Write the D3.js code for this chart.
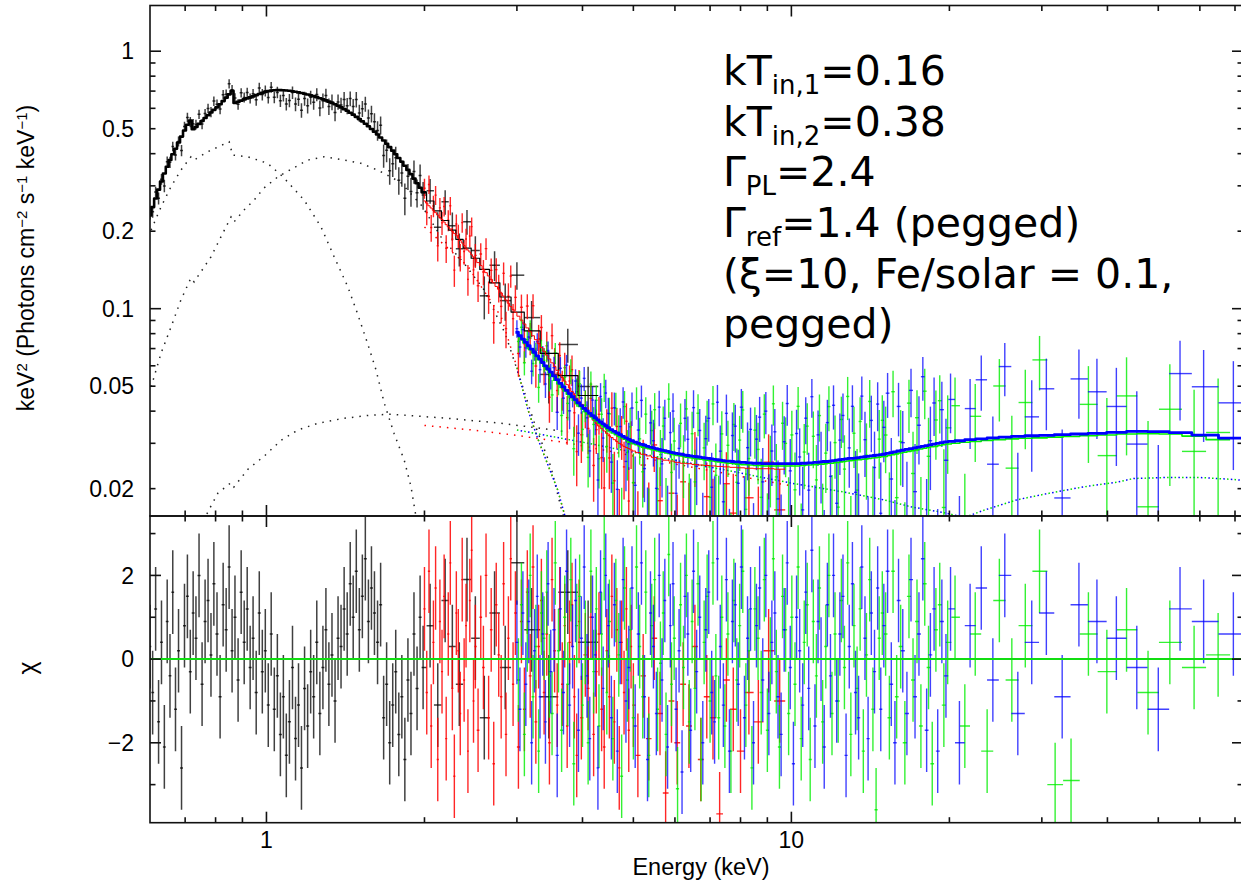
<!DOCTYPE html>
<html>
<head>
<meta charset="utf-8">
<script src="https://cdn.jsdelivr.net/npm/d3@7"></script>
<style>
  body { margin: 0; background: #fff; }
  svg text { font-family: "Liberation Sans", Arial, sans-serif; fill: #000; }
  .annot text { font-family: "DejaVu Sans", sans-serif; }
</style>
</head>
<body>
<svg id="chart" width="1241" height="884"></svg>
<script>
// ---- Black spectrum (soft band): bin energy, model, rel. error (%), chi ----
const blackE = [0.600,0.607,0.615,0.623,0.631,0.639,0.647,0.655,0.663,0.671,
  0.680,0.689,0.698,0.707,0.716,0.725,0.734,0.744,0.754,0.764,
  0.774,0.784,0.794,0.805,0.816,0.827,0.838,0.849,0.860,0.871,
  0.883,0.895,0.907,0.919,0.931,0.943,0.956,0.969,0.982,0.995,
  1.008,1.021,1.035,1.049,1.063,1.077,1.091,1.106,1.121,1.136,
  1.151,1.166,1.182,1.198,1.214,1.230,1.247,1.264,1.281,1.298,
  1.315,1.333,1.351,1.369,1.387,1.406,1.425,1.444,1.463,1.483,
  1.503,1.523,1.543,1.564,1.585,1.606,1.628,1.650,1.672,1.694,
  1.717,1.740,1.763,1.787,1.811,1.835,1.860,1.885,1.910,1.936,
  1.962,1.988,2.05,2.12,2.19,2.26,2.33,2.41,2.50,2.60,
  2.72,2.85,3.00,3.20,3.45,3.75,4.10];
const blackModel = [0.230,0.248,0.268,0.290,0.312,0.335,0.356,0.378,0.398,0.418,
  0.442,0.466,0.492,0.518,0.538,0.498,0.508,0.522,0.536,0.550,
  0.564,0.578,0.592,0.606,0.622,0.640,0.660,0.680,0.702,0.630,
  0.636,0.643,0.650,0.656,0.662,0.668,0.675,0.682,0.689,0.695,
  0.700,0.703,0.705,0.706,0.706,0.705,0.704,0.702,0.699,0.696,
  0.692,0.688,0.684,0.679,0.674,0.669,0.663,0.657,0.651,0.644,
  0.637,0.630,0.622,0.614,0.605,0.596,0.587,0.577,0.567,0.556,
  0.545,0.534,0.523,0.511,0.499,0.487,0.475,0.462,0.450,0.437,
  0.424,0.411,0.398,0.385,0.372,0.359,0.346,0.333,0.320,0.307,
  0.295,0.283,0.262,0.240,0.220,0.202,0.186,0.172,0.157,0.142,
  0.126,0.111,0.097,0.082,0.067,0.055,0.046];
const blackErr = [5,5,5,5,5,5,5,5,4.5,4.5,
  4.5,4.5,4.5,4.5,4.5,4.5,4.5,4.5,4.5,4.5,
  4.5,4.5,4.5,4.5,4.5,4.5,4.5,4.5,4.5,4.5,
  4.5,4.5,4.5,4.5,4.5,4.5,5,5,5,5,
  5,5,5,5,5,5,5,5.5,5.5,5.5,
  5.5,5.5,6,6,6,6,6,6.5,6.5,6.5,
  7,7,7,7,7,7.5,7.5,7.5,7.5,8,
  8,8,8,8.5,8.5,8.5,9,9,9,9.5,
  9.5,10,10,10,10.5,10.5,11,11,11,11.5,
  11.5,12,12,12.5,13,13,13.5,14,14.5,15,
  15.5,16,17,18,19,20,21];
const blackChi = [0.3,-0.8,1.2,-1.5,0.4,-2.1,0.9,-0.4,1.6,-1.2,0.2,-2.6,
  0.8,1.5,-0.3,1.1,0.5,2.0,-0.6,0.9,1.4,0.1,1.8,0.6,-0.9,1.3,0.7,2.2,0.2,1.0,-0.5,1.6,0.4,1.2,-0.2,
  0.5,-0.8,1.1,-0.3,0.2,-1.1,0.6,
  -1.2,-0.4,-1.8,-0.9,-2.3,-1.5,-0.2,-1.9,-1.1,-2.6,-0.7,-1.6,-0.3,
  -0.9,0.4,-1.3,-0.2,0.7,-0.6,0.1,-1.0,0.5,0.3,
  1.2,0.6,1.8,1.0,2.1,0.7,1.5,2.4,0.9,1.7,1.1,0.4,1.3,
  -1.4,-0.6,-2.0,-1.1,-0.3,-1.8,-0.9,-2.4,-0.5,-1.3,
  0.6,-0.7,1.0,-0.2,
  0.8,-1.1,1.4,0.3,-0.6,1.9,0.5,-1.4,1.1,-0.2,2.3,0.7,-0.9,1.6,0.4];

// ---- Red spectrum ----
const redE = [2.00,2.02,2.04,2.06,2.08,2.10,2.12,2.14,2.16,2.18,2.20,2.22,2.24,2.26,2.28,2.30,2.32,2.34,2.36,2.38,2.40,2.42,2.44,2.46,2.48,
  2.50,2.53,2.56,2.59,2.62,2.65,2.68,2.71,2.74,2.77,2.80,2.83,2.86,2.89,2.92,2.95,2.98,
  3.02,3.06,3.10,3.14,3.18,3.22,3.26,3.30,3.34,3.38,3.42,3.46,3.50,3.54,3.58,3.62,3.66,3.70,3.74,3.78,3.82,3.86,3.90,3.94,3.98,
  4.05,4.10,4.15,4.20,4.25,4.30,4.35,4.40,4.45,4.50,4.55,4.60,4.65,4.70,4.75,4.80,4.85,4.90,4.95,5.00,
  5.10,5.22,5.35,5.48,5.62,5.76,5.91,6.06,6.22,6.38,6.55,6.72,6.90,7.09,7.30,7.52,7.75,8.00,8.30,8.65,9.05,9.50];
const redModel = [0.262,0.257,0.251,0.246,0.241,0.236,0.231,0.226,0.222,0.217,0.212,0.208,0.204,0.200,0.196,0.192,0.188,0.184,0.180,0.176,0.172,0.169,0.166,0.162,0.159,
  0.156,0.151,0.147,0.142,0.138,0.134,0.130,0.126,0.122,0.119,0.115,0.112,0.108,0.105,0.102,0.0992,0.0968,
  0.0935,0.0903,0.0872,0.0842,0.0813,0.0785,0.0758,0.0732,0.0707,0.0683,0.0660,0.0638,0.0616,0.0596,0.0576,0.0557,0.0540,0.0523,0.0507,0.0492,0.0477,0.0463,0.0449,0.0437,0.0425,
  0.0405,0.0392,0.0380,0.0369,0.0359,0.0350,0.0342,0.0335,0.0328,0.0321,0.0316,0.0310,0.0305,0.0300,0.0296,0.0292,0.0289,0.0286,0.0283,0.0280,
  0.0276,0.0272,0.0268,0.0264,0.0261,0.0258,0.0256,0.0253,0.0251,0.0250,0.0248,0.0247,0.0246,0.0245,0.0244,0.0243,0.0242,0.0241,0.0240,0.0239,0.0239,0.0238];
const redErr = [10,10,10,10,10,10,10,10,10,10,10,10,10,10,10,10,10.5,10.5,10.5,10.5,10.5,10.5,11,11,11,
  11,11,11,11,12,12,12,12,12.5,12.5,12.5,12.5,12.5,13,13,13,13,
  13.5,13.5,13.5,13.5,13.5,14,14,14,14,14.5,14.5,14.5,14.5,15,15,15,16,16,16,16,16.5,16.5,16.5,17,17,
  17,18,18,18.5,18.5,18.5,19,19,20,20,20,20.5,20.5,21,21,21,22,22,22.5,22.5,
  22.5,23,23.5,24,24,24.5,25,25,25.5,26,26,26.5,27,27,27.5,28,28,28.5,29,29.5,30,30.5];
const redChi = [1.2,-0.8,2.1,-1.6,0.4,1.7,-2.4,0.9,-0.3,1.5,-1.9,0.6,2.3,-0.7,-2.8,1.1,0.2,-1.3,1.9,-0.5,0.8,-2.2,1.4,2.6,-1.0,
  0.3,-1.7,1.0,-0.2,2.0,-1.4,0.7,-2.5,1.3,0.1,-0.9,1.8,-1.8,0.5,2.4,-0.6,1.1,
  -2.1,0.9,-1.2,1.6,-0.4,2.2,-1.5,0.3,1.4,-0.8,0.6,-2.0,1.9,0.2,-1.1,1.2,-0.6,0.8,-1.6,0.4,1.3,-0.9,-2.3,0.9,-1.4,
  0.1,-0.7,1.0,-1.8,-0.3,0.6,-1.2,-2.1,0.2,-0.9,1.5,-1.5,0.7,-2.6,0.4,-0.8,1.2,-1.7,0.3,-1.1,
  -2.3,-0.4,-1.9,0.5,-1.3,-3.2,-1.0,-2.0,-0.6,-1.6,0.3,-2.4,-0.9,-1.4,-3.7,-0.5,-1.2,-2.2,-0.8,-1.5,0.2,-1.0];

// ---- Green spectrum (hard band) ----
const greenE = [3.02,3.06,3.10,3.14,3.18,3.22,3.26,3.30,3.34,3.38,3.42,3.46,3.50,
  3.55,3.60,3.65,3.70,3.75,3.80,3.85,3.90,3.95,4.00,4.05,4.10,4.15,4.20,4.25,4.30,4.35,4.40,4.45,4.50,
  4.57,4.63,4.69,4.75,4.81,4.87,4.93,5.00,5.07,5.14,5.21,5.28,5.35,5.42,5.49,5.56,5.63,5.70,5.77,5.84,5.91,5.98,
  6.07,6.15,6.23,6.31,6.39,6.47,6.55,6.64,6.73,6.82,6.91,7.00,7.09,7.18,7.27,7.37,7.47,7.57,7.67,7.77,7.87,7.97,
  8.08,8.19,8.30,8.41,8.52,8.64,8.76,8.88,9.00,9.12,9.24,9.36,9.49,9.62,9.75,9.88,10.02,10.16,10.30,10.44,10.58,10.72,10.86,11.01,
  11.16,11.31,11.47,11.63,11.79,11.95,12.11,12.28,12.45,12.62,12.80,12.98,13.16,13.34,13.52,13.71,13.90,14.10,14.30,14.50,14.70,14.90,
  15.12,15.37,15.62,15.87,16.15,16.45,16.75,17.05,17.35,17.65,17.95,18.25,18.55,18.85,19.17,19.52,19.85,
  20.5,21.4,22.4,23.6,24.9,26.3,27.9,29.7,31.8,34.1,36.8,39.9,43.5,47.8,52.6,58.5,65.0];
const greenModel = [0.0781,0.0758,0.0736,0.0714,0.0693,0.0673,0.0653,0.0634,0.0615,0.0597,0.0580,0.0564,0.0548,
  0.0527,0.0510,0.0494,0.0479,0.0465,0.0452,0.0440,0.0428,0.0417,0.0407,0.0398,0.0389,0.0381,0.0373,0.0366,0.0359,0.0353,0.0347,0.0341,0.0336,
  0.0329,0.0324,0.0319,0.0315,0.0311,0.0307,0.0303,0.0299,0.0296,0.0293,0.0290,0.0288,0.0286,0.0284,0.0282,0.0280,0.0278,0.0277,0.0275,0.0274,0.0272,0.0271,
  0.0269,0.0268,0.0267,0.0265,0.0264,0.0263,0.0262,0.0261,0.0260,0.0259,0.0258,0.0257,0.0256,0.0255,0.0254,0.0253,0.0252,0.0251,0.0251,0.0250,0.0249,0.0249,
  0.0248,0.0248,0.0247,0.0247,0.0246,0.0246,0.0246,0.0245,0.0245,0.0245,0.0245,0.0245,0.0245,0.0245,0.0245,0.0245,0.0245,0.0245,0.0245,0.0246,0.0246,0.0247,0.0247,0.0248,
  0.0248,0.0249,0.0249,0.0250,0.0251,0.0251,0.0252,0.0253,0.0254,0.0255,0.0256,0.0257,0.0258,0.0259,0.0259,0.0260,0.0261,0.0262,0.0263,0.0264,0.0265,0.0266,
  0.0267,0.0269,0.0271,0.0273,0.0275,0.0277,0.0279,0.0281,0.0283,0.0285,0.0287,0.0289,0.0291,0.0292,0.0294,0.0296,0.0298,
  0.0300,0.0303,0.0305,0.0308,0.0310,0.0312,0.0314,0.0315,0.0317,0.0319,0.0321,0.0323,0.0326,0.0327,0.0326,0.0320,0.0310];
const greenErr = [9,9,9,9,10,10,10,10,11,11,11,11,12,
  12,12,13,13,13,14,14,14,15,15,15,16,16,16,17,17,17,18,18,18,
  19,19,19,20,20,20,21,21,21,22,22,22,23,23,23,24,24,24,25,25,25,26,
  26,26,26,27,27,27,27,28,28,28,28,28,29,29,29,29,29,29,30,30,30,30,
  30,30,30,30,31,31,31,31,31,31,31,31,31,31,32,32,32,32,32,32,32,32,32,32,
  32,32,32,33,33,33,33,33,33,33,34,34,34,34,34,34,34,35,35,35,35,35,
  35,35,36,36,36,36,36,37,37,37,37,38,38,38,38,39,39,
  40,41,42,43,44,46,47,48,50,52,54,56,58,60,62,64,66];
const greenChi = [-0.5,1.3,-1.8,0.7,2.0,-0.9,0.3,-2.2,1.1,0.5,1.6,-0.4,-1.3,
  2.3,0.2,-1.7,1.0,-0.6,1.9,-2.5,0.8,1.5,-1.1,0.4,-2.0,2.1,-0.3,1.2,-1.6,0.6,2.4,-0.8,0.9,
  -1.9,1.4,0.1,-2.8,1.7,-0.5,0.7,-1.4,2.2,0.3,-0.9,1.6,-2.3,0.8,1.9,-1.2,-0.1,1.1,-1.8,2.5,-0.6,0.5,
  -3.1,1.3,-0.2,2.0,-1.5,0.9,-0.7,1.8,-2.4,0.4,1.5,-1.0,2.3,-0.4,-1.4,1.0,-1.6,0.6,-2.2,1.4,-0.5,0.8,
  2.1,-1.1,0.2,-2.6,1.2,0.5,-0.8,1.9,-1.7,0.0,2.4,-0.3,-2.1,1.5,0.7,-1.3,1.0,-0.6,2.2,-1.9,0.4,1.3,-2.4,0.9,
  -0.4,1.7,-1.5,0.3,2.0,-1.3,0.6,-1.0,1.4,-0.2,2.3,-1.8,0.8,-0.7,1.2,-2.2,0.1,1.9,-1.2,-3.6,0.5,1.1,
  0.6,-1.4,2.1,-0.9,0.3,-2.0,1.5,-0.5,0.9,-1.6,1.8,-0.2,-2.5,0.7,1.3,-1.1,0.4,
  1.0,-1.6,0.6,-2.2,1.4,-0.5,0.8,2.1,-3.0,-2.9,0.6,-0.3,0.7,-0.8,0.4,-0.2,0.1];

// ---- Blue spectrum (hard band) ----
const blueE = [3.00,3.04,3.08,3.12,3.16,3.20,3.24,3.28,3.32,3.36,3.40,3.44,3.48,
  3.53,3.58,3.63,3.68,3.73,3.78,3.83,3.88,3.93,3.98,4.03,4.08,4.13,4.18,4.23,4.28,4.33,4.38,4.43,4.48,
  4.54,4.60,4.66,4.72,4.78,4.84,4.90,4.97,5.04,5.11,5.18,5.25,5.32,5.39,5.46,5.53,5.60,5.67,5.74,5.81,5.88,5.95,
  6.03,6.11,6.19,6.27,6.35,6.43,6.51,6.60,6.69,6.78,6.87,6.96,7.05,7.14,7.23,7.32,7.42,7.52,7.62,7.72,7.82,7.92,
  8.03,8.14,8.25,8.36,8.47,8.58,8.70,8.82,8.94,9.06,9.18,9.30,9.43,9.56,9.69,9.82,9.95,10.09,10.23,10.37,10.51,10.65,10.79,10.94,
  11.09,11.24,11.39,11.55,11.71,11.87,12.03,12.20,12.37,12.54,12.71,12.89,13.07,13.25,13.43,13.62,13.81,14.00,14.20,14.40,14.60,14.80,
  15.0,15.25,15.5,15.75,16.0,16.3,16.6,16.9,17.2,17.5,17.8,18.1,18.4,18.7,19.0,19.35,19.7,
  20.1,20.9,21.9,23.0,24.2,25.5,27.0,28.7,30.6,32.8,35.3,38.2,41.6,45.5,50.0,55.0,61.0,69.5];
const blueModel = [0.0810,0.0785,0.0762,0.0740,0.0718,0.0697,0.0676,0.0656,0.0637,0.0618,0.0600,0.0583,0.0567,
  0.0548,0.0530,0.0513,0.0497,0.0482,0.0468,0.0455,0.0443,0.0431,0.0420,0.0410,0.0401,0.0392,0.0384,0.0377,0.0370,0.0363,0.0357,0.0351,0.0345,
  0.0339,0.0334,0.0329,0.0324,0.0319,0.0315,0.0311,0.0307,0.0303,0.0300,0.0297,0.0295,0.0292,0.0290,0.0288,0.0286,0.0284,0.0282,0.0281,0.0279,0.0277,0.0276,
  0.0274,0.0273,0.0272,0.0270,0.0269,0.0268,0.0267,0.0266,0.0265,0.0264,0.0263,0.0262,0.0261,0.0260,0.0259,0.0258,0.0257,0.0256,0.0256,0.0255,0.0254,0.0254,
  0.0253,0.0253,0.0252,0.0252,0.0251,0.0251,0.0251,0.0250,0.0250,0.0250,0.0250,0.0250,0.0250,0.0250,0.0250,0.0250,0.0250,0.0250,0.0250,0.0250,0.0251,0.0251,0.0252,0.0252,
  0.0253,0.0253,0.0254,0.0255,0.0255,0.0256,0.0257,0.0258,0.0259,0.0260,0.0261,0.0262,0.0262,0.0263,0.0264,0.0265,0.0266,0.0267,0.0268,0.0269,0.0270,0.0271,
  0.0272,0.0274,0.0276,0.0278,0.0280,0.0282,0.0284,0.0286,0.0288,0.0290,0.0292,0.0294,0.0296,0.0298,0.0300,0.0302,0.0304,
  0.0305,0.0307,0.0310,0.0312,0.0315,0.0317,0.0319,0.0321,0.0322,0.0324,0.0326,0.0328,0.0331,0.0334,0.0333,0.0330,0.0323,0.0314];
const blueErr = [8,8,8,8,9,9,9,9,10,10,10,10,11,
  11,11,12,12,12,13,13,13,14,14,14,15,15,15,16,16,16,17,17,17,
  18,18,18,19,19,19,20,20,20,21,21,21,22,22,22,23,23,23,24,24,24,25,
  25,25,25,26,26,26,26,27,27,27,27,27,28,28,28,28,28,28,29,29,29,29,
  29,29,29,29,30,30,30,30,30,30,30,30,30,30,31,31,31,31,31,31,31,31,31,31,
  31,31,31,32,32,32,32,32,32,32,33,33,33,33,33,33,33,34,34,34,34,34,
  34,34,35,35,35,35,35,36,36,36,36,37,37,37,37,38,38,
  38,39,40,41,42,44,45,46,47,48,49,50,52,54,56,58,60,62];
const blueChi = [0.4,-1.2,1.1,-0.6,0.9,-2.0,0.2,1.5,-0.9,0.6,-1.5,1.8,-0.3,
  0.7,-2.3,1.2,-0.8,2.1,-1.1,0.3,1.4,-1.7,0.5,2.2,-0.4,-1.9,1.0,0.1,-2.6,1.6,-0.7,2.0,0.8,
  -1.4,1.3,-2.2,0.4,1.9,-1.0,-0.2,1.7,-1.6,0.6,2.3,-0.9,-2.4,1.1,0.3,-1.3,2.0,-0.5,1.4,-2.1,0.8,1.8,
  -1.2,0.2,-2.7,1.5,0.6,-1.7,2.1,-0.3,1.0,-2.0,0.7,1.6,-0.8,-1.5,2.4,0.3,-1.1,1.9,-2.2,0.9,1.3,-0.6,
  2.2,-1.4,0.5,1.2,-2.0,0.8,1.7,-0.5,2.0,-1.3,0.4,1.1,-0.9,-1.8,0.7,2.3,-0.2,-2.5,1.0,0.2,-1.1,1.6,-0.7,2.6,
  -1.6,0.9,0.0,-2.1,1.3,-0.4,2.0,-1.0,0.6,1.5,-2.3,0.3,1.8,-0.8,-1.4,2.2,0.5,-1.9,1.1,-0.3,1.7,-1.2,
  0.8,2.1,-0.6,-2.0,1.4,0.2,-1.3,1.9,-0.9,0.6,2.4,-1.7,0.1,1.2,-2.2,0.9,-0.4,
  1.2,-2.0,0.8,1.7,-0.5,2.0,-1.3,0.4,1.1,-0.9,1.3,0.9,0.5,-0.2,-1.2,1.2,0.9,0.6];

// ---- Model components (dotted), energy / keV^2 flux ----
const blkDisk1E = [0.603,0.630,0.658,0.687,0.718,0.728,0.773,0.849,0.862,0.921,1.005,1.074,1.180,1.270,1.346,1.428,1.490,1.558,1.617,1.677,1.750,1.830,1.885,1.913,1.950];
const blkDisk1V = [0.202,0.249,0.298,0.345,0.389,0.378,0.407,0.445,0.395,0.389,0.367,0.326,0.264,0.208,0.159,0.122,0.096,0.0734,0.0578,0.0429,0.0328,0.0258,0.0204,0.017,0.0135];
const blkDisk2E = [0.603,0.630,0.658,0.687,0.718,0.728,0.784,0.819,0.856,0.867,0.906,0.947,0.989,1.051,1.126,1.200,1.287,1.404,1.513,1.630,1.800,1.980,2.150,2.380,2.600,2.850,3.060,3.240,3.480,3.640,3.760];
const blkDisk2V = [0.0497,0.0673,0.0849,0.108,0.1316,0.127,0.159,0.190,0.227,0.217,0.2416,0.264,0.294,0.325,0.352,0.378,0.389,0.378,0.367,0.345,0.310,0.250,0.190,0.150,0.118,0.080,0.0515,0.0359,0.0244,0.0169,0.0135];
const blkPowE = [0.760,0.774,0.808,0.856,0.867,0.922,0.989,1.066,1.148,1.253,1.404,1.580,1.726,1.830,2.220,2.800,3.760];
const blkPowV = [0.0150,0.0163,0.0192,0.0211,0.0203,0.0238,0.0267,0.0308,0.0338,0.0359,0.0375,0.0386,0.0389,0.0386,0.0375,0.0359,0.0332];
const redDisk2E = [2.00,2.42,2.80,3.01,3.15,3.28,3.43,3.59,3.68,3.76];
const redDisk2V = [0.2076,0.146,0.093,0.058,0.0404,0.0317,0.025,0.0197,0.0164,0.0140];
const redPowE = [2.0,2.5,3.0,3.75,5.0,7.0,10.0];
const redPowV = [0.0352,0.0337,0.0322,0.0301,0.0268,0.0235,0.0205];
const hardDisk2E = [3.00,3.15,3.28,3.43,3.59,3.68,3.76];
const hardDisk2V = [0.059,0.0404,0.0317,0.025,0.0197,0.0164,0.0140];
const hardPowE = [3.0,4.0,5.0,6.5,8.0,10.0,12.6,15.0,16.9,19.3,22.0];
const hardPowV = [0.0338,0.0303,0.0277,0.0250,0.0230,0.0210,0.0194,0.0181,0.0170,0.0162,0.0153];
const hardReflE = [20.5,23.3,26.9,31.0,35.9,41.7,44.9,52.0,60.0,69.8,73.0];
const hardReflV = [0.0150,0.0165,0.0181,0.0192,0.0203,0.0212,0.0219,0.0221,0.0221,0.0217,0.0215];

// ---- Axis ticks ----
const xMajor = [1, 10];
const xMinor = [0.7, 0.8, 0.9, 2, 3, 4, 5, 6, 7, 8, 9, 20, 30, 40, 50, 60, 70];
const xLabels = [1, 10];
const yMajor = [0.1, 1];
const yMinor = [0.02, 0.03, 0.04, 0.05, 0.06, 0.07, 0.08, 0.09, 0.2, 0.3, 0.4, 0.5, 0.6, 0.7, 0.8, 0.9];
const yLabels = [1, 0.5, 0.2, 0.1, 0.05, 0.02];
const chiMajor = [-2, 0, 2];
const chiMinor = [-3, -1, 1, 3];

const annotLines = [
  ['kT', 'in,1', '=0.16'],
  ['kT', 'in,2', '=0.38'],
  ['\u0393', 'PL', '=2.4'],
  ['\u0393', 'ref', '=1.4 (pegged)'],
  ['(\u03be=10, Fe/solar = 0.1,', '', ''],
  ['pegged)', '', '']
];

// ---- layout ----
const pLeft = 150, pRight = 1243, pTop = 5.5, pMid = 516, pBottom = 822.7;

const svg = d3.select('#chart');
const x = d3.scaleLog().domain([0.6, 72.5]).range([pLeft, pRight]);
const yUp = d3.scaleLog().domain([0.01566, 1.505]).range([pMid, pTop]);
const yChi = d3.scaleLinear().domain([-3.91, 3.42]).range([pBottom, pMid]);

const defs = svg.append('defs');
defs.append('clipPath').attr('id', 'clipUp')
  .append('rect').attr('x', pLeft).attr('y', pTop).attr('width', pRight - pLeft).attr('height', pMid - pTop);
defs.append('clipPath').attr('id', 'clipLo')
  .append('rect').attr('x', pLeft).attr('y', pMid).attr('width', pRight - pLeft).attr('height', pBottom - pMid);

const upper = svg.append('g').attr('clip-path', 'url(#clipUp)');
const lower = svg.append('g').attr('clip-path', 'url(#clipLo)');

// build bins: edges are geometric midpoints between neighbouring channels
function makeBins(E, M, R, C) {
  return E.map((e, i) => {
    const lo = i > 0 ? Math.sqrt(E[i - 1] * e) : e * Math.sqrt(e / E[i + 1]);
    const hi = i < E.length - 1 ? Math.sqrt(E[i + 1] * e) : e * Math.sqrt(e / E[i - 1]);
    const sig = M[i] * R[i] / 100;
    return { e, lo, hi, m: M[i], sig, chi: C[i], val: M[i] + C[i] * sig };
  });
}

// mw: model line width; thickTo: model drawn heavier up to this energy
const sets = [
  { name: 'black', color: '#000000', op: 0.75, sw: 1.5, bins: makeBins(blackE, blackModel, blackErr, blackChi), mw: 1.2, thickTo: 2.0, tw: 2.6 },
  { name: 'red', color: '#ff0000', op: 0.85, sw: 1.4, bins: makeBins(redE, redModel, redErr, redChi), mw: 1 },
  { name: 'green', color: '#00ee00', op: 0.8, sw: 1.4, bins: makeBins(greenE, greenModel, greenErr, greenChi), mw: 1.6 },
  { name: 'blue', color: '#0000ff', op: 0.75, sw: 1.4, bins: makeBins(blueE, blueModel, blueErr, blueChi), mw: 2.8 }
];

const floorV = 1e-4;
const compLine = d3.line().x(d => x(d[0])).y(d => yUp(d[1]));
const zip = (a, b) => a.map((v, i) => [v, b[i]]);

// dotted components
function drawComp(E, V, color, offset) {
  upper.append('path')
    .attr('d', compLine(zip(E, V)))
    .attr('fill', 'none')
    .attr('stroke', color)
    .attr('stroke-width', 1.5)
    .attr('stroke-dasharray', '1.5,6')
    .attr('stroke-dashoffset', offset || 0);
}
drawComp(blkDisk1E, blkDisk1V, '#222', 0);
drawComp(blkDisk2E, blkDisk2V, '#222', 0);
drawComp(blkPowE, blkPowV, '#222', 0);
drawComp(redDisk2E, redDisk2V, '#ff0000', 0);
drawComp(redPowE, redPowV, '#ff0000', 0);
drawComp(hardDisk2E, hardDisk2V, '#00dd00', 0);
drawComp(hardDisk2E, hardDisk2V, '#0000ff', 3.7);
drawComp(hardPowE, hardPowV, '#00dd00', 0);
drawComp(hardPowE, hardPowV, '#0000ff', 3.7);
drawComp(hardReflE, hardReflV, '#00dd00', 0);
drawComp(hardReflE, hardReflV, '#0000ff', 3.7);

// data crosses in both panels
sets.forEach(s => {
  const gu = upper.append('g').attr('stroke', s.color).attr('stroke-opacity', s.op).attr('stroke-width', s.sw);
  gu.selectAll('line.v').data(s.bins.filter(b => b.val + b.sig > 0)).join('line')
    .attr('class', 'v')
    .attr('x1', b => x(b.e)).attr('x2', b => x(b.e))
    .attr('y1', b => yUp(Math.max(b.val - b.sig, floorV)))
    .attr('y2', b => yUp(b.val + b.sig));
  gu.selectAll('line.h').data(s.bins.filter(b => b.val > 0)).join('line')
    .attr('class', 'h')
    .attr('x1', b => x(b.lo)).attr('x2', b => x(b.hi))
    .attr('y1', b => yUp(b.val)).attr('y2', b => yUp(b.val));

  const gl = lower.append('g').attr('stroke', s.color).attr('stroke-opacity', s.op).attr('stroke-width', s.sw);
  gl.selectAll('line.v').data(s.bins).join('line')
    .attr('class', 'v')
    .attr('x1', b => x(b.e)).attr('x2', b => x(b.e))
    .attr('y1', b => yChi(b.chi - 1)).attr('y2', b => yChi(b.chi + 1));
  gl.selectAll('line.h').data(s.bins).join('line')
    .attr('class', 'h')
    .attr('x1', b => x(b.lo)).attr('x2', b => x(b.hi))
    .attr('y1', b => yChi(b.chi)).attr('y2', b => yChi(b.chi));
});

// model histograms
function stepPath(bins, width, color) {
  const pts = bins.flatMap(b => [[b.lo, b.m], [b.hi, b.m]]);
  upper.append('path')
    .attr('d', compLine(pts))
    .attr('fill', 'none')
    .attr('stroke', color)
    .attr('stroke-width', width)
    .attr('stroke-linejoin', 'round');
}
sets.forEach(s => {
  stepPath(s.bins, s.mw, s.color);
  if (s.thickTo) stepPath(s.bins.filter(b => b.e < s.thickTo), s.tw, s.color);
});

// zero line of the residual panel
lower.append('line')
  .attr('x1', pLeft).attr('x2', pRight)
  .attr('y1', yChi(0)).attr('y2', yChi(0))
  .attr('stroke', '#11dd11').attr('stroke-width', 2);

// ---- frames and ticks ----
const axes = svg.append('g').attr('stroke', '#111').attr('stroke-width', 1.6);
[[pTop, pMid], [pMid, pBottom]].forEach(([t, b]) => {
  axes.append('rect').attr('x', pLeft).attr('y', t).attr('width', pRight - pLeft).attr('height', b - t).attr('fill', 'none');
});

function xTicks(yEdge, dir) {
  axes.append('g').selectAll('line').data(xMajor.map(v => [v, 11]).concat(xMinor.map(v => [v, 5.5]))).join('line')
    .attr('x1', d => x(d[0])).attr('x2', d => x(d[0]))
    .attr('y1', yEdge).attr('y2', d => yEdge + dir * d[1]);
}
xTicks(pTop, 1);
xTicks(pMid, -1);
xTicks(pMid, 1);
xTicks(pBottom, -1);

[pLeft, pRight].forEach((xe, k) => {
  const dir = k === 0 ? 1 : -1;
  axes.append('g').selectAll('line').data(yMajor.map(v => [v, 11]).concat(yMinor.map(v => [v, 5.5]))).join('line')
    .attr('x1', xe).attr('x2', d => xe + dir * d[1])
    .attr('y1', d => yUp(d[0])).attr('y2', d => yUp(d[0]));
  axes.append('g').selectAll('line').data(chiMajor.map(v => [v, 11]).concat(chiMinor.map(v => [v, 5.5]))).join('line')
    .attr('x1', xe).attr('x2', d => xe + dir * d[1])
    .attr('y1', d => yChi(d[0])).attr('y2', d => yChi(d[0]));
});

// tick labels
const fmt = v => String(v);
svg.append('g').selectAll('text').data(yLabels).join('text')
  .attr('x', 134).attr('y', d => yUp(d)).attr('dy', '0.36em')
  .attr('text-anchor', 'end').attr('font-size', 23)
  .text(fmt);
svg.append('g').selectAll('text').data(chiMajor).join('text')
  .attr('x', 134).attr('y', d => yChi(d)).attr('dy', '0.36em')
  .attr('text-anchor', 'end').attr('font-size', 23)
  .text(d => d < 0 ? '\u2212' + Math.abs(d) : String(d));
svg.append('g').selectAll('text').data(xLabels).join('text')
  .attr('x', d => x(d)).attr('y', 848)
  .attr('text-anchor', 'middle').attr('font-size', 23)
  .text(fmt);

// axis titles
svg.append('text')
  .attr('x', 701).attr('y', 875)
  .attr('text-anchor', 'middle').attr('font-size', 23.5)
  .text('Energy (keV)');

const yt = svg.append('text')
  .attr('transform', 'translate(34,258) rotate(-90)')
  .attr('text-anchor', 'middle').attr('font-size', 23);
[['keV', false], ['2', true], [' (Photons cm', false], ['\u22122', true], [' s', false],
 ['\u22121', true], [' keV', false], ['\u22121', true], [')', false]].forEach(([t, sup]) => {
  const ts = yt.append('tspan').text(t);
  if (sup) ts.attr('font-size', 15).attr('baseline-shift', '45%');
});

svg.append('text')
  .attr('transform', 'translate(36,668) rotate(-90)')
  .attr('text-anchor', 'middle').attr('font-size', 25)
  .text('\u03c7');

// ---- annotation ----
const ann = svg.append('g').attr('class', 'annot');
annotLines.forEach((ln, i) => {
  const t = ann.append('text')
    .attr('x', 723).attr('y', 85 + i * 50.65)
    .attr('font-size', 41);
  t.append('tspan').text(ln[0]);
  if (ln[1]) {
    t.append('tspan').text(ln[1]).attr('font-size', 26).attr('dy', 9);
    t.append('tspan').text(ln[2]).attr('dy', -9);
  }
});
</script>
</body>
</html>
